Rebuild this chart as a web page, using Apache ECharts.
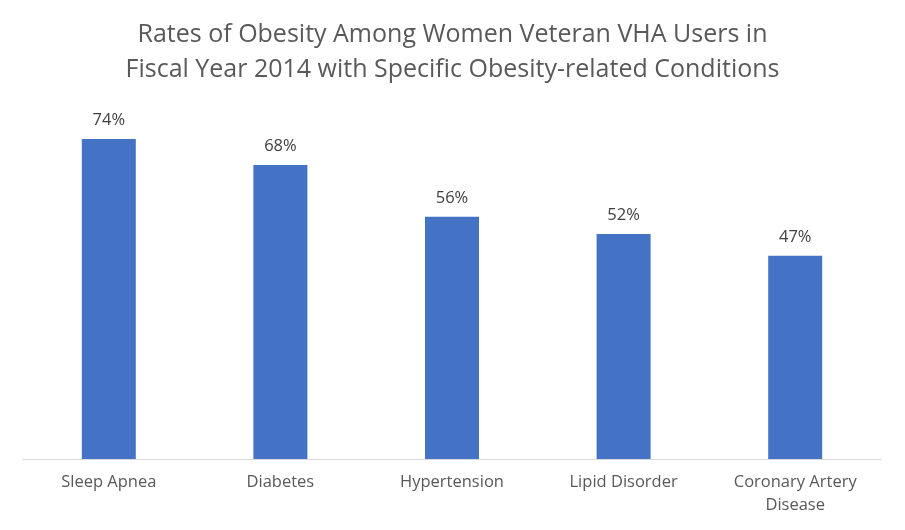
<!DOCTYPE html>
<html>
<head>
<meta charset="utf-8">
<script src="https://cdn.jsdelivr.net/npm/echarts@6/dist/echarts.min.js"></script>
<style>html,body{margin:0;padding:0;background:#fff;}#c{width:905px;height:530px;}</style>
</head>
<body>
<div id="c"></div>
<script>
const categories = ['Sleep Apnea', 'Diabetes', 'Hypertension', 'Lipid Disorder', 'Coronary Artery\nDisease'];
const values = [74, 68, 56, 52, 47];
const titleLines = ['Rates of Obesity Among Women Veteran VHA Users in', 'Fiscal Year 2014 with Specific Obesity-related Conditions'];

const chart = echarts.init(document.getElementById('c'));
chart.setOption({
  backgroundColor: '#fff',
  animation: false,
  title: {
    text: titleLines.join('\n'),
    left: 'center',
    top: 12,
    textStyle: { fontFamily: 'Open Sans', fontWeight: 'normal', fontSize: 25, color: '#595959', lineHeight: 35 }
  },
  grid: { left: 23, right: 24, top: 113, bottom: 71 },
  xAxis: {
    type: 'category',
    data: categories,
    axisLine: { lineStyle: { color: '#d9d9d9', width: 1 } },
    axisTick: { show: false },
    axisLabel: { fontFamily: 'Open Sans', fontSize: 16.5, color: '#595959', margin: 12, lineHeight: 23, interval: 0 }
  },
  yAxis: { type: 'value', min: 0, max: 80, show: false, splitLine: { show: false } },
  series: [{
    type: 'bar',
    data: values,
    barWidth: 54,
    itemStyle: { color: '#4472c4' },
    label: { show: true, position: 'top', distance: 10, formatter: '{c}%', fontFamily: 'Open Sans', fontSize: 16.5, color: '#404040' }
  }]
});
</script>
</body>
</html>
